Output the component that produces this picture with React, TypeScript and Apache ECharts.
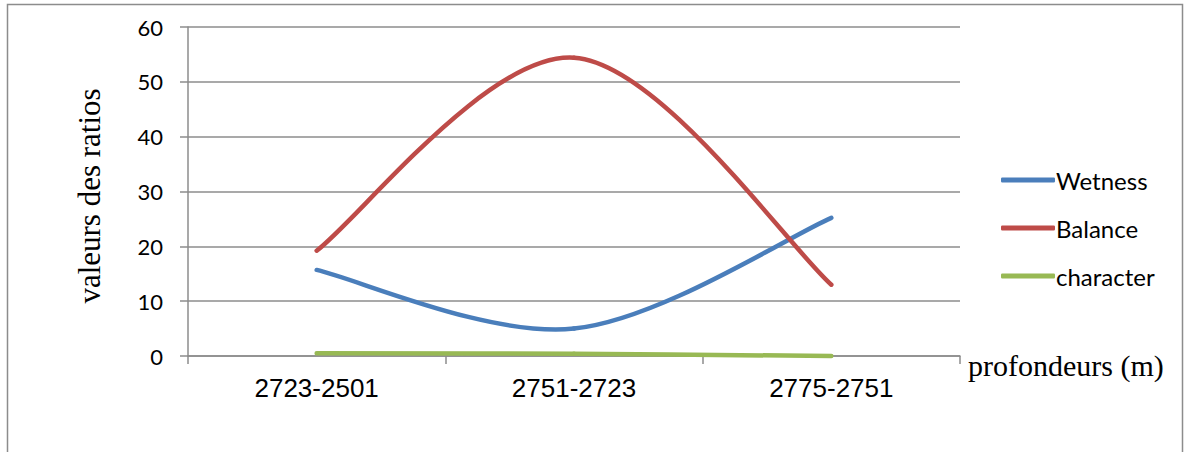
import React, { useEffect, useRef } from "react";
import * as echarts from "echarts";

// Depth intervals (m) and the geochemical ratios measured in each
const depthIntervals = ["2723-2501", "2751-2723", "2775-2751"];
const wetness = [15.7, 5.0, 25.2];
const balance = [19.2, 54.4, 13.0];
const character = [0.5, 0.4, 0.0];

const yTicks = { min: 0, max: 60, interval: 10 };

const seriesNames = ["Wetness", "Balance", "character"];
const seriesColors = ["#4a7ebb", "#be4b48", "#98b954"];

const yAxisTitle = "valeurs des ratios";
const xAxisTitle = "profondeurs (m)";

const W = 1184;
const H = 452;

// Smoothed line: each segment is a cubic Bézier whose control points follow
// the Catmull-Rom rule in pixel space (end points reuse themselves as neighbours).
function smoothSeries(name: string, values: number[], color: string) {
  return {
    name,
    type: "custom",
    data: values.map((v, i) => [i, v]),
    itemStyle: { color },
    clip: false,
    renderItem: (params: any, api: any) => {
      const i = params.dataIndex;
      const n = values.length;
      if (i >= n - 1) return null;
      const pt = (j: number) => {
        const c = Math.max(0, Math.min(n - 1, j));
        return api.coord([c, values[c]]);
      };
      const p0 = pt(i - 1);
      const p1 = pt(i);
      const p2 = pt(i + 1);
      const p3 = pt(i + 2);
      const k = 1 / 6;
      return {
        type: "bezierCurve",
        shape: {
          x1: p1[0],
          y1: p1[1],
          cpx1: p1[0] + (p2[0] - p0[0]) * k,
          cpy1: p1[1] + (p2[1] - p0[1]) * k,
          cpx2: p2[0] - (p3[0] - p1[0]) * k,
          cpy2: p2[1] - (p3[1] - p1[1]) * k,
          x2: p2[0],
          y2: p2[1],
        },
        style: { fill: "none", stroke: color, lineWidth: 4.5, lineCap: "round" },
      };
    },
  };
}

export default function App() {
  const ref = useRef<HTMLDivElement>(null);

  useEffect(() => {
    document.body.style.margin = "0";
    if (!ref.current) return;
    const chart = echarts.init(ref.current, null, { renderer: "svg", width: W, height: H });

    const gridColor = "#8c8c8c";
    const values = [wetness, balance, character];

    chart.setOption({
      animation: false,
      backgroundColor: "#ffffff",
      grid: { left: 188, right: W - 960, top: 27, bottom: H - 356, containLabel: false },
      xAxis: {
        type: "category",
        data: depthIntervals,
        boundaryGap: true,
        axisLine: { show: true, lineStyle: { color: gridColor, width: 1.5 } },
        axisTick: { show: true, length: 8, interval: 0, lineStyle: { color: gridColor, width: 1.5 } },
        axisLabel: {
          color: "#000",
          fontFamily: "Liberation Sans",
          fontSize: 26,
          margin: 19,
        },
      },
      yAxis: {
        type: "value",
        min: yTicks.min,
        max: yTicks.max,
        interval: yTicks.interval,
        axisLine: { show: true, lineStyle: { color: gridColor, width: 1.5 } },
        axisTick: { show: true, length: 8, lineStyle: { color: gridColor, width: 1.5 } },
        splitLine: { show: true, lineStyle: { color: gridColor, width: 1.5 } },
        axisLabel: {
          color: "#000",
          fontFamily: "Lato",
          fontSize: 22,
          margin: 25,
        },
      },
      legend: {
        orient: "vertical",
        left: 996,
        top: 163,
        itemWidth: 54,
        itemHeight: 5,
        itemGap: 24,
        icon: "roundRect",
        textStyle: {
          fontFamily: "Lato",
          fontSize: 24,
          color: "#000",
          padding: [0, 0, 0, -4],
          lineHeight: 24,
        },
        data: seriesNames,
      },
      series: seriesNames.map((name, i) => smoothSeries(name, values[i], seriesColors[i])),
      graphic: [
        {
          type: "rect",
          shape: { x: 7.5, y: 4.5, width: 1175, height: 470 },
          style: { fill: "none", stroke: "#8c8c8c", lineWidth: 1.5 },
          silent: true,
        },
        {
          type: "text",
          x: 89.5,
          y: 196,
          rotation: Math.PI / 2,
          style: {
            text: yAxisTitle,
            font: "31px 'Liberation Serif'",
            fill: "#000",
            align: "center",
            verticalAlign: "middle",
          },
          silent: true,
        },
        {
          type: "text",
          x: 968,
          y: 365,
          style: {
            text: xAxisTitle,
            font: "30px 'Liberation Serif'",
            fill: "#000",
            align: "left",
            verticalAlign: "middle",
          },
          silent: true,
        },
      ],
    });

    return () => chart.dispose();
  }, []);

  return (
    <div
      ref={ref}
      style={{ position: "absolute", left: 0, top: 0, width: W, height: H }}
    />
  );
}
